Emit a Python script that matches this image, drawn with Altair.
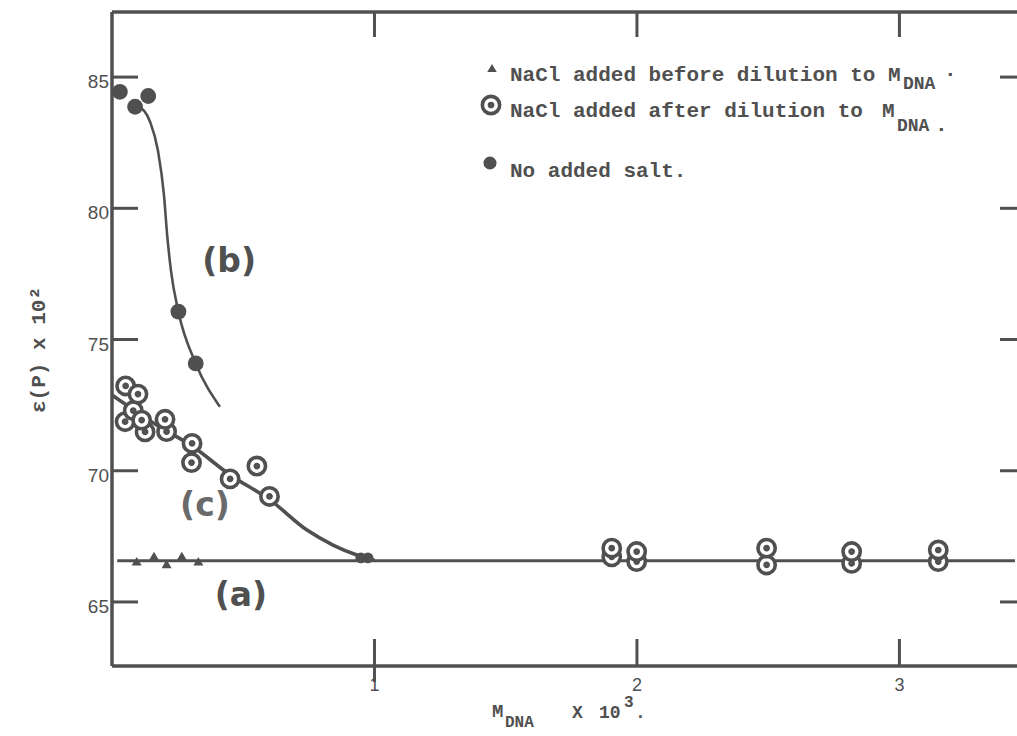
import altair as alt
import pandas as pd

# ---------------- data ----------------
# (b) no added salt - filled circles
filled_x = [0.030, 0.088, 0.138, 0.253, 0.319]
filled_y = [84.44, 83.87, 84.28, 76.06, 74.09]
# blob where curve (c) meets line (a)
blob_x = [0.948, 0.975]
blob_y = [66.68, 66.68]
# curve (b)
curve_b_x = [0.100, 0.145, 0.175, 0.198, 0.210, 0.225, 0.253, 0.319, 0.411]
curve_b_y = [83.90, 83.30, 82.20, 80.50, 79.00, 77.60, 76.06, 74.09, 72.44]
# (c) NaCl added after dilution - open circles (lower of a pair listed first)
open_x = [0.050, 0.081, 0.052, 0.099, 0.126, 0.113, 0.208, 0.202, 0.303, 0.305,
          0.450, 0.552, 0.600,
          1.904, 1.904, 1.999, 1.999, 2.494, 2.494, 2.818, 2.818, 3.148, 3.148]
open_y = [71.87, 72.29, 73.23, 72.92, 71.48, 71.93, 71.49, 71.96, 70.31, 71.04,
          69.69, 70.18, 69.02,
          66.72, 67.05, 66.54, 66.92, 66.41, 67.05, 66.47, 66.92, 66.54, 66.98]
# curve (c)
curve_c_x = [0.000, 0.164, 0.305, 0.450, 0.602, 0.743, 0.842, 0.933, 1.000]
curve_c_y = [72.89, 71.78, 70.94, 69.84, 68.89, 67.74, 67.17, 66.79, 66.59]
# (a) NaCl added before dilution - triangles
tri_x = [0.094, 0.160, 0.208, 0.266, 0.329]
tri_y = [66.55, 66.75, 66.45, 66.75, 66.55]
# line (a)
line_a_x = [0.02, 3.44]
line_a_y = [66.57, 66.57]

x_ticks = [1, 2, 3]
x_tick_labels = ["1", "2", "3"]
y_ticks = [65, 70, 75, 80, 85]
y_tick_labels = ["65", "70", "75", "80", "85"]
curve_labels = ["(b)", "(c)", "(a)"]
curve_label_x = [0.446, 0.354, 0.491]
curve_label_y = [77.95, 68.66, 65.23]
curve_label_weight = ["bold", "normal", "bold"]

# ---------------- layout ----------------
INK = "#505050"
L, T, W, H = 112, 12, 905, 654
XDOM = [0, 3.448]
YDOM = [62.56, 87.48]
MONO = "Liberation Mono"
RING = ("M-1,0A1,1 0 1,1 1,0A1,1 0 1,1 -1,0Z "
        "M-0.18,0A0.18,0.18 0 1,1 0.18,0A0.18,0.18 0 1,1 -0.18,0Z")

xs = alt.Scale(domain=XDOM, nice=False, zero=False)
ys = alt.Scale(domain=YDOM, nice=False, zero=False)
one = pd.DataFrame({"k": [0]})


def X(field="x"):
    return alt.X(f"{field}:Q", scale=xs, axis=None)


def Y(field="y"):
    return alt.Y(f"{field}:Q", scale=ys, axis=None)


def txt(s, ax, ay, size, font, weight="normal", align="left",
        baseline="alphabetic", angle=0):
    return alt.Chart(one).mark_text(
        text=s, fontSize=size, font=font, fontWeight=weight, align=align,
        baseline=baseline, angle=angle, color=INK
    ).encode(x=alt.value(ax - L), y=alt.value(ay - T))


# tick labels
ylab = alt.Chart(pd.DataFrame({"y": y_ticks, "t": y_tick_labels})).mark_text(
    font="Liberation Sans", fontSize=19, color=INK, align="right",
    baseline="middle", dy=5).encode(y=Y(), x=alt.value(-3), text="t:N")
xlab = alt.Chart(pd.DataFrame({"x": x_ticks, "t": x_tick_labels})).mark_text(
    font="Liberation Sans", fontSize=18, color=INK, align="center",
    baseline="middle").encode(x=X(), y=alt.value(H + 20), text="t:N")

# frame
frame_left = alt.Chart(one).mark_rule(color=INK, strokeWidth=3.5).encode(
    x=alt.value(0), y=alt.value(0), y2=alt.value(H))
frame_top = alt.Chart(one).mark_rule(color=INK, strokeWidth=3.5).encode(
    y=alt.value(0), x=alt.value(0), x2=alt.value(W))
frame_bottom = alt.Chart(one).mark_rule(color=INK, strokeWidth=3.5).encode(
    y=alt.value(H), x=alt.value(0), x2=alt.value(W))

# inward ticks
ydf = pd.DataFrame({"y": y_ticks})
xdf = pd.DataFrame({"x": x_ticks})
ticks_left = alt.Chart(ydf).mark_rule(color=INK, strokeWidth=3).encode(
    y=Y(), x=alt.value(0), x2=alt.value(26))
ticks_right = alt.Chart(ydf).mark_rule(color=INK, strokeWidth=3).encode(
    y=Y(), x=alt.value(W - 17), x2=alt.value(W))
ticks_top = alt.Chart(xdf).mark_rule(color=INK, strokeWidth=3).encode(
    x=X(), y=alt.value(0), y2=alt.value(25))
ticks_bottom = alt.Chart(xdf).mark_rule(color=INK, strokeWidth=3).encode(
    x=X(), y=alt.value(H - 27), y2=alt.value(H))
tick_one_ext = alt.Chart(xdf).transform_filter("datum.x == 1").mark_rule(
    color=INK, strokeWidth=3).encode(x=X(), y=alt.value(H), y2=alt.value(H + 16))

# lines
line_a = alt.Chart(pd.DataFrame({"x": line_a_x, "y": line_a_y})).mark_line(
    color=INK, strokeWidth=3).encode(x=X(), y=Y())
line_b = alt.Chart(pd.DataFrame({"x": curve_b_x, "y": curve_b_y})).mark_line(
    color=INK, strokeWidth=2.6, interpolate="monotone").encode(x=X(), y=Y())
line_c = alt.Chart(pd.DataFrame({"x": curve_c_x, "y": curve_c_y})).mark_line(
    color=INK, strokeWidth=3.6, interpolate="monotone").encode(x=X(), y=Y())

# points
pts_filled = alt.Chart(pd.DataFrame({"x": filled_x, "y": filled_y})).mark_point(
    shape="circle", filled=True, color=INK, size=250, opacity=1).encode(x=X(), y=Y())
pts_blob = alt.Chart(pd.DataFrame({"x": blob_x, "y": blob_y})).mark_point(
    shape="circle", filled=True, color=INK, size=120, opacity=1).encode(x=X(), y=Y())
pts_open = alt.Chart(pd.DataFrame({"x": open_x, "y": open_y})).mark_point(
    shape=RING, filled=True, fill="white", stroke=INK, strokeWidth=3.6,
    size=300, opacity=1, fillOpacity=1, strokeOpacity=1).encode(x=X(), y=Y())
pts_tri = alt.Chart(pd.DataFrame({"x": tri_x, "y": tri_y})).mark_point(
    shape="triangle-up", filled=True, color=INK, size=100, opacity=1).encode(x=X(), y=Y())

# curve labels
lab_df = pd.DataFrame({"x": curve_label_x, "y": curve_label_y,
                       "t": curve_labels, "w": curve_label_weight})
lab_bold = alt.Chart(lab_df).transform_filter("datum.w == 'bold'").mark_text(
    font="DejaVu Sans", fontSize=33, fontWeight="bold", color=INK,
    baseline="middle").encode(x=X(), y=Y(), text="t:N")
lab_norm = alt.Chart(lab_df).transform_filter("datum.w == 'normal'").mark_text(
    font="DejaVu Sans", fontSize=33, fontWeight="bold", color="#6a6a6a",
    baseline="middle").encode(x=X(), y=Y(), text="t:N")

# legend
leg_tri = alt.Chart(one).mark_point(shape="triangle-up", filled=True, color=INK,
                                    size=90, opacity=1).encode(
    x=alt.value(492 - L), y=alt.value(68 - T))
leg_ring = alt.Chart(one).mark_point(shape=RING, filled=True, fill="white",
                                     stroke=INK, strokeWidth=3.6, size=300,
                                     opacity=1).encode(
    x=alt.value(491 - L), y=alt.value(105 - T))
leg_dot = alt.Chart(one).mark_point(shape="circle", filled=True, color=INK,
                                    size=170, opacity=1).encode(
    x=alt.value(490 - L), y=alt.value(163 - T))
leg_texts = [
    txt("NaCl added before dilution to M", 510, 81, 21, MONO, "bold"),
    txt("DNA", 903, 89, 18, MONO, "bold"),
    txt("·", 944, 80, 21, MONO, "bold"),
    txt("NaCl added after dilution to", 510, 117, 21, MONO, "bold"),
    txt("M", 882, 117, 21, MONO, "bold"),
    txt("DNA", 897, 131, 18, MONO, "bold"),
    txt(".", 935, 131, 21, MONO, "bold"),
    txt("No added salt.", 510, 177, 21, MONO, "bold"),
]

# axis titles
titles = [
    txt("ε(P)  x  10²", 39, 350, 21, MONO, "bold", align="center",
        baseline="middle", angle=270),
    txt("M", 492, 717, 19, MONO, "bold"),
    txt("DNA", 505, 727, 16, MONO, "bold"),
    txt("X", 572, 718, 18, MONO, "bold"),
    txt("10", 599, 718, 18, MONO, "bold"),
    txt("3", 624, 707, 16, MONO, "bold"),
    txt(".", 635, 718, 18, MONO, "bold"),
]

layers = [line_a, line_b, line_c, pts_tri, pts_blob, pts_filled, pts_open,
          lab_bold, lab_norm, ticks_left, ticks_right, ticks_top, ticks_bottom,
          tick_one_ext, frame_left, frame_top, frame_bottom, ylab, xlab,
          leg_tri, leg_ring, leg_dot] + leg_texts + titles

chart = alt.layer(*layers).properties(
    width=W, height=H,
    autosize=alt.AutoSizeParams(type="none"),
    padding={"left": L, "top": T, "right": 0, "bottom": 736 - T - H},
    background="white",
).configure_view(stroke=None)

chart.save("out.html", embed_options={"renderer": "svg", "actions": False})
